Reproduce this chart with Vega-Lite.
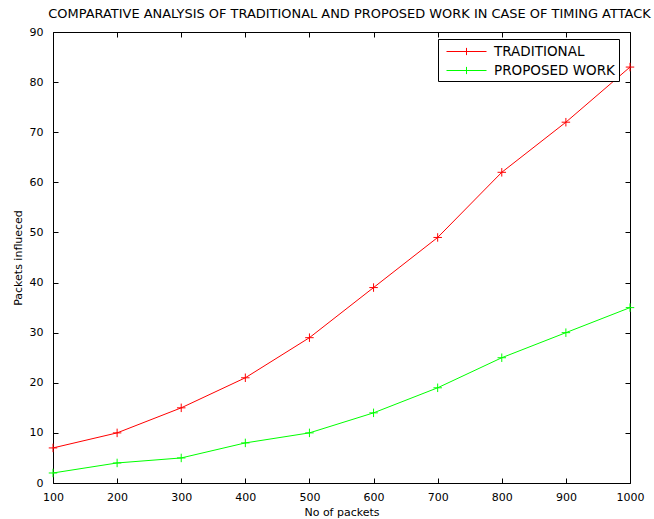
{
  "$schema": "https://vega.github.io/schema/vega-lite/v6.json",
  "width": 577,
  "height": 451,
  "autosize": {"type": "none"},
  "padding": {"left": 53, "top": 32, "right": 24, "bottom": 36},
  "background": "white",
  "title": {
    "text": "COMPARATIVE ANALYSIS OF TRADITIONAL AND PROPOSED WORK IN CASE OF TIMING ATTACK",
    "font": "DejaVu Sans",
    "fontSize": 12.95,
    "fontWeight": "normal",
    "color": "black",
    "anchor": "middle",
    "frame": "group",
    "offset": 5,
    "dx": 8
  },
  "data": {
    "values": [
      {"packets": 100, "influenced": 7, "series": "TRADITIONAL"},
      {"packets": 200, "influenced": 10, "series": "TRADITIONAL"},
      {"packets": 300, "influenced": 15, "series": "TRADITIONAL"},
      {"packets": 400, "influenced": 21, "series": "TRADITIONAL"},
      {"packets": 500, "influenced": 29, "series": "TRADITIONAL"},
      {"packets": 600, "influenced": 39, "series": "TRADITIONAL"},
      {"packets": 700, "influenced": 49, "series": "TRADITIONAL"},
      {"packets": 800, "influenced": 62, "series": "TRADITIONAL"},
      {"packets": 900, "influenced": 72, "series": "TRADITIONAL"},
      {"packets": 1000, "influenced": 83, "series": "TRADITIONAL"},
      {"packets": 100, "influenced": 2, "series": "PROPOSED WORK"},
      {"packets": 200, "influenced": 4, "series": "PROPOSED WORK"},
      {"packets": 300, "influenced": 5, "series": "PROPOSED WORK"},
      {"packets": 400, "influenced": 8, "series": "PROPOSED WORK"},
      {"packets": 500, "influenced": 10, "series": "PROPOSED WORK"},
      {"packets": 600, "influenced": 14, "series": "PROPOSED WORK"},
      {"packets": 700, "influenced": 19, "series": "PROPOSED WORK"},
      {"packets": 800, "influenced": 25, "series": "PROPOSED WORK"},
      {"packets": 900, "influenced": 30, "series": "PROPOSED WORK"},
      {"packets": 1000, "influenced": 35, "series": "PROPOSED WORK"}
    ]
  },
  "config": {
    "view": {"stroke": "black", "strokeWidth": 1},
    "axis": {
      "domain": false,
      "grid": false,
      "tickColor": "black",
      "tickSize": -5,
      "tickWidth": 1,
      "labelFlush": false,
      "labelOverlap": false,
      "labelFont": "DejaVu Sans",
      "labelFontSize": 11,
      "labelColor": "black",
      "titleFont": "DejaVu Sans",
      "titleFontSize": 11,
      "titleFontWeight": "normal",
      "titleColor": "black"
    }
  },
  "layer": [
    {
      "mark": {"type": "line", "strokeWidth": 1, "clip": false},
      "encoding": {
        "x": {
          "field": "packets", "type": "quantitative",
          "scale": {"domain": [100, 1000], "nice": false, "zero": false},
          "axis": {"orient": "bottom", "values": [100,200,300,400,500,600,700,800,900,1000], "format": "d", "title": "No of packets", "labelPadding": 13, "titlePadding": 4}
        },
        "y": {
          "field": "influenced", "type": "quantitative",
          "scale": {"domain": [0, 90], "nice": false},
          "axis": {"orient": "left", "values": [0,10,20,30,40,50,60,70,80,90], "title": "Packets influeced", "labelPadding": 15, "titlePadding": 6}
        },
        "color": {
          "field": "series", "type": "nominal",
          "scale": {"domain": ["TRADITIONAL", "PROPOSED WORK"], "range": ["#ff0000", "#00ff00"]},
          "legend": {
            "title": null,
            "orient": "none",
            "legendX": 385,
            "legendY": 7,
            "direction": "vertical",
            "fillColor": "white",
            "strokeColor": "black",
            "padding": 4,
            "rowPadding": 4,
            "symbolType": "M-2.5,0H2.5M0,-0.45V0.45",
            "symbolSize": 256,
            "symbolOffset": 16,
            "symbolStrokeWidth": 1,
            "labelFont": "DejaVu Sans",
            "labelFontSize": 13.5,
            "labelColor": "black",
            "labelOffset": 19
          }
        }
      }
    },
    {
      "mark": {"type": "point", "shape": "M-1,0H1M0,-1V1", "size": 72, "strokeWidth": 1, "filled": false, "opacity": 1, "clip": false},
      "encoding": {
        "x": {"field": "packets", "type": "quantitative", "axis": null},
        "y": {"field": "influenced", "type": "quantitative", "axis": null},
        "color": {"field": "series", "type": "nominal", "legend": null}
      }
    },
    {
      "mark": {"type": "point", "opacity": 0},
      "encoding": {
        "x": {"field": "packets", "type": "quantitative", "axis": {"orient": "top", "values": [100,200,300,400,500,600,700,800,900,1000], "labels": false, "title": null}},
        "y": {"field": "influenced", "type": "quantitative", "axis": {"orient": "right", "values": [0,10,20,30,40,50,60,70,80,90], "labels": false, "title": null}}
      }
    }
  ],
  "resolve": {"axis": {"x": "independent", "y": "independent"}}
}
